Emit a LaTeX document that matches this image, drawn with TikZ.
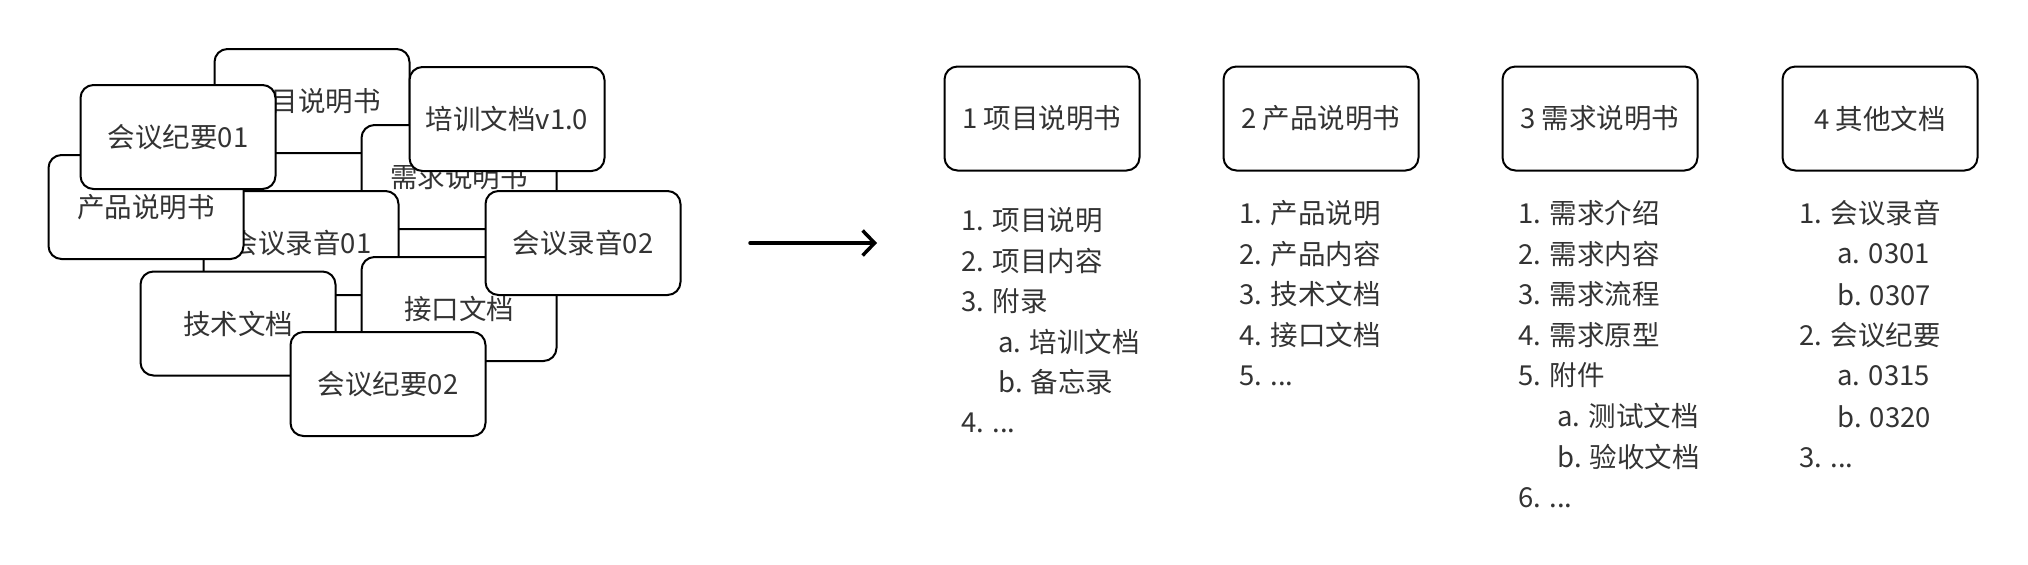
\documentclass[tikz,border=0pt]{standalone}
\usepackage{fontspec}
\setmainfont{Noto Sans CJK SC}
\usetikzlibrary{arrows.meta}

\tikzset{
  doc/.style={draw, line width=1pt, rounded corners=6.5pt, fill=white,
    minimum width=97.5pt, minimum height=52pt, inner sep=0pt, text=black!80},
  item/.style={anchor=west, inner sep=0pt, text=black!80},
}

\begin{document}
\begin{tikzpicture}[x=0.5pt, y=-0.5pt, font=\fontsize{13.75pt}{16pt}\selectfont]
        \useasboundingbox (0,0) rectangle (2028,564);
        % loose documents
        \begin{scope}
            \node[doc] (proj) at (312,101) {项目说明书};
            \node[doc] (req) at (459,177) {需求说明书};
            \node[doc] (train) at (507,119) {培训文档v1.0};
            \node[doc] (rec1) at (301,243) {会议录音01};
            \node[doc] (prod) at (146,207) {产品说明书};
            \node[doc] (memo1) at (178,137) {会议纪要01};
            \node[doc] (api) at (459,309) {接口文档};
            \node[doc] (tech) at (238,323.5) {技术文档};
            \node[doc] (rec2) at (583,243) {会议录音02};
            \node[doc] (memo2) at (388,384) {会议纪要02};
        \end{scope}
        \coordinate (from) at (750,243);
        \coordinate (to) at (877,243);
        \draw[line width=1.75pt, line cap=round, -{Straight Barb[length=6pt,width=12.5pt]}] (from) -- (to);
        % sorted documents
        \begin{scope}
            \node[doc] (h1) at (1042,118.5) {1 项目说明书};
            \node[item] (a1) at (961,220) {1. 项目说明};
            \node[item] (a2) at (961,260.6) {2. 项目内容};
            \node[item] (a3) at (961,301.2) {3. 附录};
            \node[item] (a4) at (998,341.8) {a. 培训文档};
            \node[item] (a5) at (998,382.4) {b. 备忘录};
            \node[item] (a6) at (961,423) {4. ...};
        \end{scope}
        \begin{scope}
            \node[doc] (h2) at (1321,118.5) {2 产品说明书};
            \node[item] (b1) at (1239,213) {1. 产品说明};
            \node[item] (b2) at (1239,253.7) {2. 产品内容};
            \node[item] (b3) at (1239,294.4) {3. 技术文档};
            \node[item] (b4) at (1239,335.1) {4. 接口文档};
            \node[item] (b5) at (1239,375.8) {5. ...};
        \end{scope}
        \begin{scope}
            \node[doc] (h3) at (1600,118.5) {3 需求说明书};
            \node[item] (c1) at (1518,213) {1. 需求介绍};
            \node[item] (c2) at (1518,253.6) {2. 需求内容};
            \node[item] (c3) at (1518,294.2) {3. 需求流程};
            \node[item] (c4) at (1518,334.8) {4. 需求原型};
            \node[item] (c5) at (1518,375.4) {5. 附件};
            \node[item] (c6) at (1557,416) {a. 测试文档};
            \node[item] (c7) at (1557,456.6) {b. 验收文档};
            \node[item] (c8) at (1518,497.2) {6. ...};
        \end{scope}
        \begin{scope}
            \node[doc] (h4) at (1880,118.5) {4 其他文档};
            \node[item] (d1) at (1799,213) {1. 会议录音};
            \node[item] (d2) at (1837,253.7) {a. 0301};
            \node[item] (d3) at (1837,294.4) {b. 0307};
            \node[item] (d4) at (1799,335.1) {2. 会议纪要};
            \node[item] (d5) at (1837,375.8) {a. 0315};
            \node[item] (d6) at (1837,416.5) {b. 0320};
            \node[item] (d7) at (1799,457.2) {3. ...};
        \end{scope}
    \end{tikzpicture}
\end{document}
